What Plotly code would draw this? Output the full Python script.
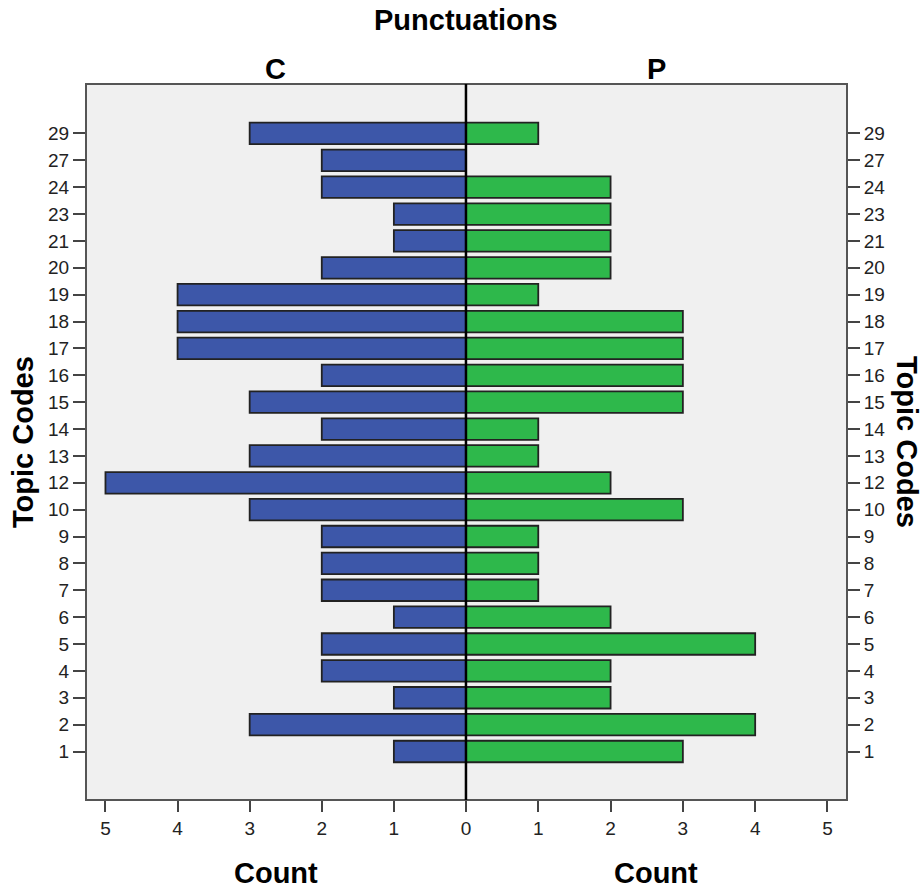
import plotly.graph_objects as go

codes = ["1", "2", "3", "4", "5", "6", "7", "8", "9", "10", "12", "13", "14",
         "15", "16", "17", "18", "19", "20", "21", "23", "24", "27", "29"]
count_c = [1, 3, 1, 2, 2, 1, 2, 2, 2, 3, 5, 3, 2, 3, 2, 4, 4, 4, 2, 1, 1, 2, 2, 3]
count_p = [3, 4, 2, 2, 4, 2, 1, 1, 1, 3, 2, 1, 1, 3, 3, 3, 3, 1, 2, 2, 2, 2, 0, 1]
x_ticks_left = [5, 4, 3, 2, 1, 0]
x_ticks_right = [1, 2, 3, 4, 5]
panel_names = ["C", "P"]

FONT = "Liberation Sans, Arial, sans-serif"
BLUE = "#3D57A9"
GREEN = "#2EB84B"
SPLIT = 0.4993
XMAX = 5.27
YRANGE = [-1.805, 24.84]

fig = go.Figure()
fig.add_trace(go.Bar(y=codes, x=count_c, orientation="h", xaxis="x", yaxis="y",
                     marker=dict(color=BLUE, line=dict(color="#222", width=1.8)),
                     showlegend=False))
fig.add_trace(go.Bar(y=codes, x=count_p, orientation="h", xaxis="x2", yaxis="y2",
                     marker=dict(color=GREEN, line=dict(color="#222", width=1.8)),
                     showlegend=False))

tickfont = dict(family=FONT, size=19, color="#222")
common_x = dict(showgrid=False, zeroline=False, ticks="outside", ticklen=11,
                tickwidth=2, tickcolor="#444", tickfont=tickfont, showline=False,
                automargin=False)
common_y = dict(type="category", categoryorder="array", categoryarray=codes,
                range=YRANGE, showgrid=False, zeroline=False, ticks="outside",
                ticklen=12, tickwidth=2, tickcolor="#444", tickfont=tickfont,
                showline=False, ticklabelstandoff=0, automargin=False)

fig.update_layout(
    width=922, height=889,
    margin=dict(l=86, r=75, t=84, b=89, autoexpand=False),
    paper_bgcolor="white", plot_bgcolor="#F0F0F0",
    bargap=0.2,
    xaxis=dict(domain=[0, SPLIT], range=[XMAX, 0], tickvals=x_ticks_left,
               ticktext=[str(v) for v in x_ticks_left], anchor="y", **common_x),
    xaxis2=dict(domain=[SPLIT, 1], range=[0, XMAX], tickvals=x_ticks_right,
                ticktext=[str(v) for v in x_ticks_right], anchor="y2", **common_x),
    yaxis=dict(anchor="x", side="left", **common_y),
    yaxis2=dict(anchor="x2", side="right", **common_y),
    font=dict(family=FONT),
)

shapes = [
    dict(type="rect", xref="paper", yref="paper", x0=0, x1=1, y0=0, y1=1,
         line=dict(color="#555", width=2), fillcolor="rgba(0,0,0,0)", layer="above"),
    dict(type="line", xref="paper", yref="paper", x0=SPLIT, x1=SPLIT, y0=0, y1=1,
         line=dict(color="black", width=2.5), layer="above"),
]
fig.update_layout(shapes=shapes)

bold = dict(family=FONT, size=29, color="black")
base = dict(xref="paper", yref="paper", showarrow=False, font=bold,
            xanchor="center", yanchor="middle")
ann = [
    dict(text="<b>Punctuations</b>", x=SPLIT, y=1, yshift=64, **base),
    dict(text="<b>%s</b>" % panel_names[0], x=SPLIT / 2, y=1, yshift=15, **base),
    dict(text="<b>%s</b>" % panel_names[1], x=(SPLIT + 1) / 2, y=1, yshift=15, **base),
    dict(text="<b>Count</b>", x=SPLIT / 2, y=0, yshift=-73, **base),
    dict(text="<b>Count</b>", x=(SPLIT + 1) / 2, y=0, yshift=-73, **base),
    dict(text="<b>Topic Codes</b>", x=0, y=0.5, xshift=-63, yshift=0,
         textangle=-90, **base),
    dict(text="<b>Topic Codes</b>", x=1, y=0.5, xshift=60, yshift=0,
         textangle=90, **base),
]
fig.update_layout(annotations=ann)

fig.write_html("out.html", config={"displayModeBar": False},
               post_script="document.body.style.margin='0';document.body.style.padding='0';")
